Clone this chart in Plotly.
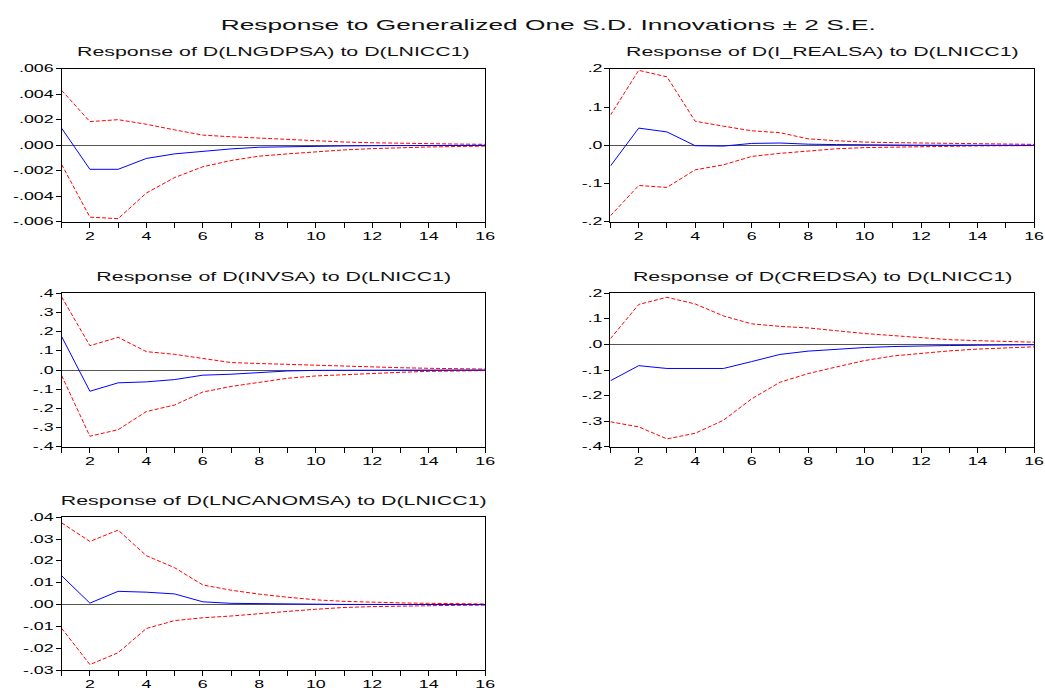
import plotly.graph_objects as go

steps = list(range(1, 17))

# Panel 1: D(LNGDPSA)
gdp_resp = [0.00134, -0.00188, -0.00188, -0.00103, -0.00067, -0.00046, -0.00028, -0.00015,
            -0.00010, -0.00008, -0.00005, -0.00003, -0.00002, -0.00001, -0.000005, 0.0]
gdp_up = [0.00431, 0.00186, 0.00201, 0.00165, 0.00121, 0.00080, 0.00067, 0.00057,
          0.00046, 0.00034, 0.00026, 0.00020, 0.00015, 0.00012, 0.00010, 0.00008]
gdp_lo = [-0.00150, -0.00563, -0.00575, -0.00374, -0.00253, -0.00168, -0.00119, -0.00085,
          -0.00067, -0.00049, -0.00036, -0.00026, -0.00018, -0.00013, -0.00009, -0.00006]

# Panel 2: D(I_REALSA)
ir_resp = [-0.054, 0.045, 0.035, -0.001, -0.002, 0.005, 0.006, 0.003,
           0.002, 0.001, 0.0005, 0.0003, 0.0002, 0.0001, 0.0001, 0.0]
ir_up = [0.079, 0.196, 0.179, 0.063, 0.050, 0.038, 0.033, 0.017,
         0.012, 0.0085, 0.007, 0.006, 0.004, 0.0035, 0.003, 0.0025]
ir_lo = [-0.184, -0.105, -0.110, -0.064, -0.051, -0.029, -0.021, -0.015,
         -0.009, -0.006, -0.0045, -0.003, -0.002, -0.0015, -0.001, -0.0008]

# Panel 3: D(INVSA)
inv_resp = [0.175, -0.111, -0.067, -0.062, -0.050, -0.027, -0.022, -0.014,
            -0.005, -0.002, -0.001, -0.0005, -0.0003, -0.0002, -0.0001, 0.0]
inv_up = [0.382, 0.127, 0.171, 0.096, 0.082, 0.060, 0.039, 0.034,
          0.029, 0.024, 0.019, 0.014, 0.012, 0.009, 0.007, 0.005]
inv_lo = [-0.029, -0.346, -0.312, -0.217, -0.183, -0.115, -0.086, -0.063,
          -0.043, -0.031, -0.024, -0.017, -0.012, -0.007, -0.005, -0.003]

# Panel 4: D(CREDSA)
cred_resp = [-0.142, -0.083, -0.094, -0.094, -0.094, -0.067, -0.039, -0.026,
             -0.019, -0.012, -0.008, -0.005, -0.004, -0.003, -0.002, -0.001]
cred_up = [0.023, 0.157, 0.185, 0.159, 0.112, 0.081, 0.071, 0.065,
           0.054, 0.043, 0.035, 0.027, 0.019, 0.015, 0.012, 0.009]
cred_lo = [-0.303, -0.323, -0.370, -0.348, -0.297, -0.213, -0.148, -0.114,
           -0.088, -0.063, -0.045, -0.035, -0.025, -0.018, -0.013, -0.009]

# Panel 5: D(LNCANOMSA)
ca_resp = [0.0132, 0.0007, 0.0061, 0.0057, 0.0049, 0.0013, 0.0006, 0.0004,
           0.0003, 0.0002, 0.0001, 0.0001, 0.00005, 0.00003, 0.00002, 0.00001]
ca_up = [0.0374, 0.0289, 0.0341, 0.0224, 0.0169, 0.0090, 0.0066, 0.0048,
         0.0034, 0.0022, 0.0015, 0.0010, 0.0008, 0.0006, 0.0004, 0.0003]
ca_lo = [-0.0108, -0.0274, -0.0220, -0.0109, -0.0073, -0.0060, -0.0052, -0.0040,
         -0.0031, -0.0021, -0.0013, -0.0009, -0.0006, -0.0004, -0.0003, -0.0002]

titles = ["Response of D(LNGDPSA) to D(LNICC1)",
          "Response of D(I_REALSA) to D(LNICC1)",
          "Response of D(INVSA) to D(LNICC1)",
          "Response of D(CREDSA) to D(LNICC1)",
          "Response of D(LNCANOMSA) to D(LNICC1)"]
main_title = "Response to Generalized One S.D. Innovations \u00b1 2 S.E."

ytick_vals = [
    [0.006, 0.004, 0.002, 0.0, -0.002, -0.004, -0.006],
    [0.2, 0.1, 0.0, -0.1, -0.2],
    [0.4, 0.3, 0.2, 0.1, 0.0, -0.1, -0.2, -0.3, -0.4],
    [0.2, 0.1, 0.0, -0.1, -0.2, -0.3, -0.4],
    [0.04, 0.03, 0.02, 0.01, 0.0, -0.01, -0.02, -0.03],
]
ytick_text = [
    [".006", ".004", ".002", ".000", "-.002", "-.004", "-.006"],
    [".2", ".1", ".0", "-.1", "-.2"],
    [".4", ".3", ".2", ".1", ".0", "-.1", "-.2", "-.3", "-.4"],
    [".2", ".1", ".0", "-.1", "-.2", "-.3", "-.4"],
    [".04", ".03", ".02", ".01", ".00", "-.01", "-.02", "-.03"],
]
y_ranges = [[-0.006, 0.006], [-0.2, 0.2], [-0.4, 0.4], [-0.4, 0.2], [-0.03, 0.04]]
xtick_text = [str(s) if s % 2 == 0 else "" for s in steps]

series = [(gdp_resp, gdp_up, gdp_lo), (ir_resp, ir_up, ir_lo), (inv_resp, inv_up, inv_lo),
          (cred_resp, cred_up, cred_lo), (ca_resp, ca_up, ca_lo)]

W, H = 1045, 690
# plot boxes in pixels: (left, right, top, bottom)
boxes = [(62, 488, 64, 220), (614, 1040, 64, 220),
         (62, 488, 293, 449), (614, 1040, 293, 449),
         (62, 488, 521, 677)]
title_y = [47, 47, 276, 276, 505]

FONT = "Liberation Sans, Arial, Helvetica, sans-serif"
fig = go.Figure()
annotations = []
for i, ((resp, up, lo), (l, r, t, b)) in enumerate(zip(series, boxes)):
    n = i + 1
    xa = "x" if n == 1 else f"x{n}"
    ya = "y" if n == 1 else f"y{n}"
    for vals, color, dash in [(up, "#ff0000", "4px,2px"), (lo, "#ff0000", "4px,2px"),
                              (resp, "#0000ff", "solid")]:
        fig.add_trace(go.Scatter(x=steps, y=vals, mode="lines", xaxis=xa, yaxis=ya,
                                 line=dict(color=color, width=1, dash=dash),
                                 showlegend=False, hoverinfo="skip"))
    axis_common = dict(showline=True, linecolor="black", linewidth=1, mirror=True,
                       ticks="outside", ticklen=5, tickcolor="black", tickwidth=1,
                       showgrid=False, tickfont=dict(family=FONT, size=10, color="black"))
    fig.layout[f"xaxis{'' if n == 1 else n}"] = dict(
        domain=[l / W, r / W], anchor=ya, range=[1, 16], tickmode="array",
        tickvals=steps, ticktext=xtick_text, zeroline=False,
        ticklabeloverflow="allow", **axis_common)
    fig.layout[f"yaxis{'' if n == 1 else n}"] = dict(
        domain=[1 - b / H, 1 - t / H], anchor=xa, range=y_ranges[i], tickmode="array",
        tickvals=ytick_vals[i], ticktext=ytick_text[i], zeroline=True,
        zerolinecolor="#555555", zerolinewidth=1, **axis_common)
    annotations.append(dict(text=titles[i], xref="paper", yref="paper",
                            x=(l + r) / 2 / W, y=1 - title_y[i] / H, xanchor="center",
                            yanchor="middle", showarrow=False, name="sub",
                            font=dict(family=FONT, size=12, color="#111111")))

annotations.append(dict(text=main_title, xref="paper", yref="paper", x=552 / W, y=1 - 19 / H,
                        xanchor="center", yanchor="middle", showarrow=False, name="main",
                        font=dict(family=FONT, size=14, color="#111111")))

fig.update_layout(width=W, height=H, margin=dict(l=0, r=0, t=0, b=0),
                  paper_bgcolor="white", plot_bgcolor="white",
                  annotations=annotations, showlegend=False)

post_js = """
document.body.style.margin = '0';
document.body.style.overflow = 'hidden';
var gd = document.getElementById('{plot_id}');
function stretchOne(t, s){
  if (t.getAttribute('data-st')) return;
  var x0 = parseFloat(t.getAttribute('x')) || 0;
  var tr = t.getAttribute('transform') || '';
  t.setAttribute('transform', tr + ' translate(' + x0 + ',0) scale(' + s + ',1) translate(' + (-x0) + ',0)');
  t.setAttribute('data-st', '1');
}
function stretchText(){
  gd.querySelectorAll('text.annotation-text').forEach(function(t){
    var big = (t.textContent.indexOf('Generalized') >= 0);
    stretchOne(t, big ? 1.88 : 1.78);
  });
  gd.querySelectorAll('g.xaxislayer-above text, g.yaxislayer-above text').forEach(function(t){
    stretchOne(t, 1.78);
  });
}
stretchText();
gd.on('plotly_afterplot', stretchText);
"""

fig.write_html("out.html", post_script=post_js, config={"displayModeBar": False})
